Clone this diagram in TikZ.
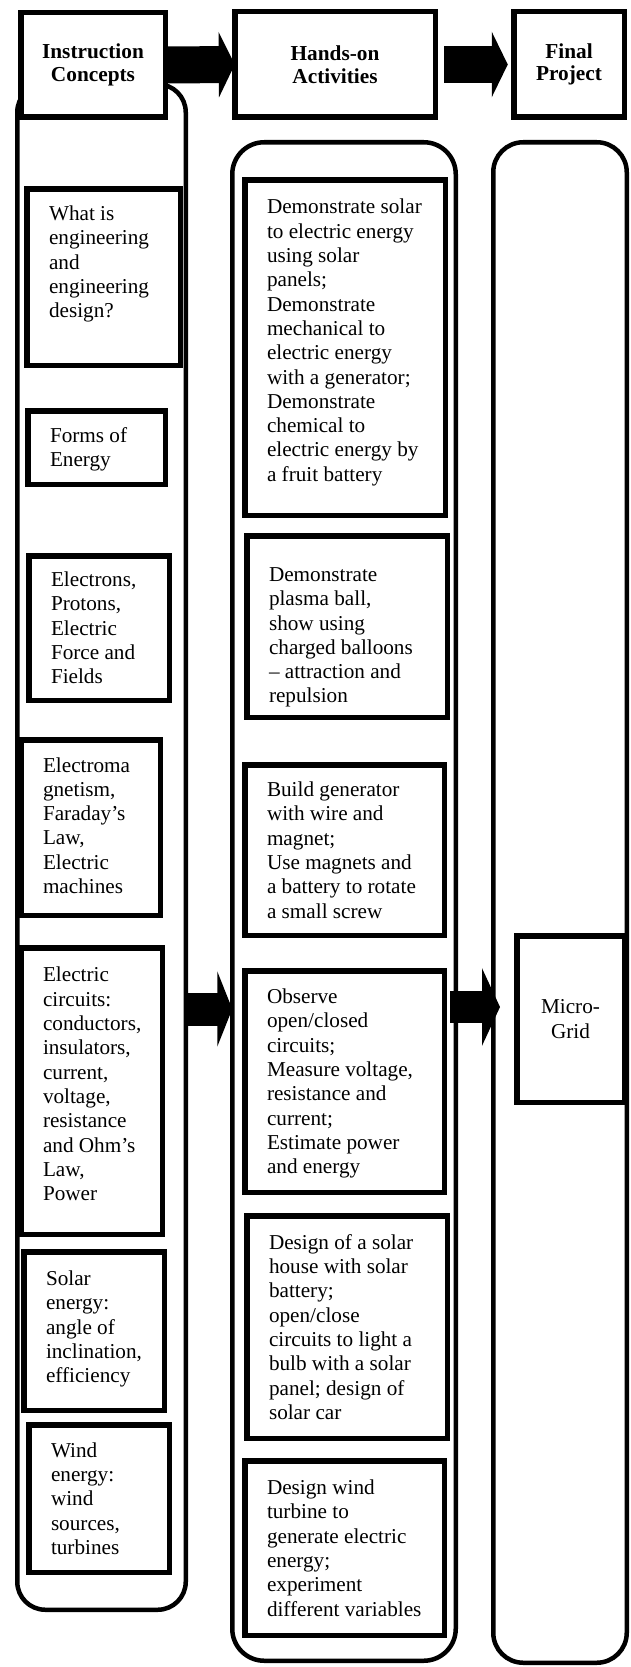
\documentclass[tikz,border=0pt]{standalone}
\usepackage{fontspec}
\setmainfont{Liberation Serif}
\usetikzlibrary{arrows.meta}
\tikzset{
  cont/.style={draw, line width=4.5pt, inner sep=0pt, outer sep=0pt},
  box/.style={draw, line width=5.5pt, fill=white, inner sep=0pt, outer sep=0pt},
  txt/.style={inner sep=0pt, outer sep=0pt, align=left, font=\fontsize{21.2}{24.3}\selectfont},
  headtxt/.style={align=center, font=\bfseries\fontsize{21.3}{22.5}\selectfont},
  ctrtxt/.style={align=center, font=\fontsize{21.2}{24.3}\selectfont},
  blockarrow/.style={draw=black, line width=#1}
}
% [text y offset] name, x1, y1, x2, y2 (outer edges), text
\newcommand\mybox[7][0]{%
  \node[box, minimum width={#5-#3-5.5}, minimum height={#6-#4-5.5}] (#2) at ({(#3+#5)/2},{(#4+#6)/2}) {};
  \node[txt, anchor=west] (#2t) at ({#3+25},{(#4+#6)/2+#1}) {#7};
}
\newcommand\mycont[6]{%
  \node[cont, rounded corners=#6, minimum width={#4-#2-4.5}, minimum height={#5-#3-4.5}] (#1) at ({(#2+#4)/2},{(#3+#5)/2}) {};
}
\newcommand\myhead[7]{%
  \node[box, #7, minimum width={#4-#2-5.5}, minimum height={#5-#3-5.5}] (#1) at ({(#2+#4)/2},{(#3+#5)/2}) {#6};
}
\begin{document}
\begin{tikzpicture}[x=1pt,y=-1pt]
\useasboundingbox (0,0) rectangle (630,1667);
% containers
\mycont{L}{15}{82}{188}{1612}{28pt}
\mycont{M}{230}{140}{458}{1663}{32pt}
\mycont{R}{491}{140}{629}{1665}{30pt}
% headers
\myhead{H1}{18}{10}{168}{120}{Instruction\\Concepts}{headtxt}
\myhead{H2}{232}{9}{438}{120}{Hands-on\\Activities}{headtxt}
\myhead{H3}{511}{9}{627}{120}{Final\\Project}{headtxt}
% left column
\mybox[-13]{L1}{24}{186}{183}{368}{What is\\engineering\\and\\engineering\\design?}
\mybox[2]{L2}{25}{408}{168}{487}{Forms of\\Energy}
\mybox{L3}{26}{553}{172}{703}{Electrons,\\Protons,\\Electric\\Force and\\Fields}
\mybox[-2]{L4}{18}{737}{163}{918}{Electroma\\gnetism,\\Faraday’s\\Law,\\Electric\\machines}
\mybox[-7]{L5}{18}{945}{165}{1237}{Electric\\circuits:\\conductors,\\insulators,\\current,\\voltage,\\resistance\\and Ohm’s\\Law,\\Power}
\mybox[-2]{L6}{21}{1249}{167}{1413}{Solar\\energy:\\angle of\\inclination,\\efficiency}
\mybox{L7}{26}{1422}{172}{1575}{Wind\\energy:\\wind\\sources,\\turbines}
% middle column
\mybox[-5]{M1}{242}{177}{448}{518}{Demonstrate solar\\to electric energy\\using solar\\panels;\\Demonstrate\\mechanical to\\electric energy\\with a generator;\\Demonstrate\\chemical to\\electric energy by\\a fruit battery}
\mybox[11]{M2}{244}{533}{450}{720}{Demonstrate\\plasma ball,\\show using\\charged balloons\\– attraction and\\repulsion}
\mybox{M3}{242}{762}{447}{938}{Build generator\\with wire and\\magnet;\\Use magnets and\\a battery to rotate\\a small screw}
\mybox[2]{M4}{242}{968}{447}{1195}{Observe\\open/closed\\circuits;\\Measure voltage,\\resistance and\\current;\\Estimate power\\and energy}
\mybox{M5}{244}{1213}{450}{1441}{Design of a solar\\house with solar\\battery;\\open/close\\circuits to light a\\bulb with a solar\\panel; design of\\solar car}
\mybox{M6}{242}{1458}{447}{1638}{Design wind\\turbine to\\generate electric\\energy;\\experiment\\different variables}
% final
\myhead{MG}{514}{933}{627}{1105}{Micro-\\Grid}{ctrtxt}
% arrows
\draw[blockarrow=37pt, -{Triangle[length=16pt, width=65pt]}] (H1.east) -- (H2.west);
\draw[blockarrow=37pt, -{Triangle[length=16pt, width=65pt]}, shorten <=9pt, shorten >=6pt] (H2.east) -- (H3.west);
\coordinate (A1s) at (L.east |- 0,1009);
\coordinate (A1e) at (M.west |- 0,1009);
\draw[blockarrow=33pt, -{Triangle[length=15pt, width=75pt]}] (A1s) -- (A1e);
\coordinate (A2s) at (450,1007);
\coordinate (A2e) at (500,1007);
\draw[blockarrow=32pt, -{Triangle[length=18pt, width=77pt]}] (A2s) -- (A2e);
\end{tikzpicture}
\end{document}
